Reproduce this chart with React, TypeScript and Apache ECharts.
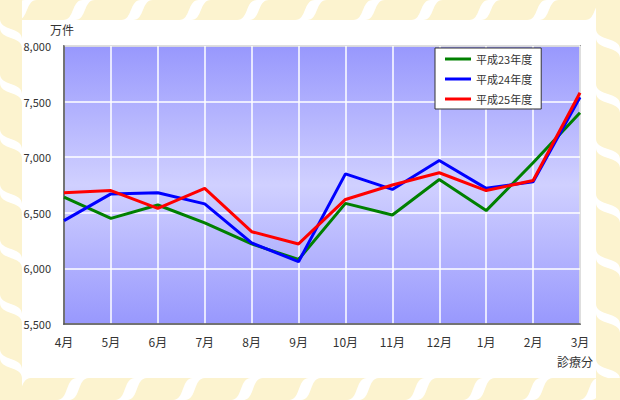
import React, { useEffect, useRef } from "react";
import * as echarts from "echarts";

const months = ["4月", "5月", "6月", "7月", "8月", "9月", "10月", "11月", "12月", "1月", "2月", "3月"];
const seriesNames = ["平成23年度", "平成24年度", "平成25年度"];
const h23 = [6640, 6450, 6570, 6410, 6220, 6080, 6585, 6480, 6800, 6520, 6950, 7400];
const h24 = [6430, 6670, 6680, 6580, 6230, 6060, 6850, 6710, 6970, 6720, 6780, 7540];
const h25 = [6680, 6700, 6540, 6720, 6330, 6220, 6620, 6750, 6860, 6700, 6790, 7580];
const seriesColors = ["#008000", "#0000ff", "#ff0000"];
const yMin = 5500;
const yMax = 8000;
const yStep = 500;

const FONT = "'Noto Sans CJK JP', 'Noto Sans', sans-serif";
const TILE = "#fcf3cf";

echarts.graphic.registerShape(
  "hTile",
  echarts.graphic.extendPath("M0 20 C12 20 8 0 20 0 L66 0 C54 0 58 20 46 20 Z", {})
);
echarts.graphic.registerShape(
  "vTile",
  echarts.graphic.extendPath("M0 0 C0 12 22 8 22 20 L22 66 C22 54 0 58 0 46 Z", {})
);

function frameTiles() {
  const els: any[] = [];
  for (let x = 17 - 58 * 2; x < 640; x += 58) {
    els.push({ type: "hTile", x, y: 0, style: { fill: TILE }, silent: true });
    els.push({ type: "hTile", x: x - 6, y: 378, scaleY: 1.1, style: { fill: TILE }, silent: true });
  }
  for (let y = 28 - 55; y < 420; y += 55) {
    els.push({ type: "vTile", x: 0, y, style: { fill: TILE }, silent: true });
    els.push({ type: "vTile", x: 596, y: y + 10, scaleX: 24 / 22, style: { fill: TILE }, silent: true });
  }
  return els;
}

export default function App() {
  const ref = useRef<HTMLDivElement>(null);
  useEffect(() => {
    document.body.style.margin = "0";
    const chart = echarts.init(ref.current!, null, { renderer: "svg" });
    const data = [h23, h24, h25];
    chart.setOption({
      animation: false,
      backgroundColor: "#ffffff",
      textStyle: { fontFamily: FONT },
      grid: {
        left: 64,
        top: 46,
        width: 516,
        height: 278,
        show: true,
        borderColor: "#505050",
        borderWidth: 1.5,
        backgroundColor: new echarts.graphic.LinearGradient(0, 0, 0, 1, [
          { offset: 0, color: "#9898fd" },
          { offset: 0.5, color: "#d0d0ff" },
          { offset: 1, color: "#9898fd" },
        ]),
      },
      legend: {
        orient: "vertical",
        left: 435,
        top: 48,
        backgroundColor: "#ffffff",
        borderColor: "#333333",
        borderWidth: 1,
        borderRadius: 0,
        padding: [4, 9, 3, 10],
        icon: "rect",
        itemWidth: 26,
        itemHeight: 3,
        itemGap: 6,
        textStyle: { fontSize: 11, color: "#333333", fontFamily: FONT, lineHeight: 14 },
        data: seriesNames,
      },
      xAxis: {
        type: "category",
        boundaryGap: false,
        data: months,
        axisLine: { show: true, lineStyle: { color: "#505050", width: 1.5 } },
        axisTick: { show: false },
        axisLabel: { color: "#333333", fontSize: 12, margin: 11, fontFamily: FONT },
        splitLine: { show: true, lineStyle: { color: "#ffffff", width: 1.5 } },
      },
      yAxis: {
        type: "value",
        min: yMin,
        max: yMax,
        interval: yStep,
        axisLine: { show: true, lineStyle: { color: "#505050", width: 1.5 } },
        axisTick: { show: false },
        axisLabel: {
          color: "#333333",
          fontSize: 11,
          margin: 13,
          fontFamily: FONT,
          formatter: (v: number) => v.toLocaleString("en-US"),
        },
        splitLine: { show: true, lineStyle: { color: "#ffffff", width: 1.5 } },
      },
      series: seriesNames.map((name, i) => ({
        name,
        type: "line",
        data: data[i],
        symbol: "none",
        color: seriesColors[i],
        lineStyle: { color: seriesColors[i], width: 3 },
        z: 3 + i,
      })),
      graphic: [
        ...frameTiles(),
        {
          type: "text",
          x: 50,
          y: 29,
          style: { text: "万件", fill: "#333333", font: `12px ${FONT}`, verticalAlign: "middle" },
        },
        {
          type: "text",
          x: 557,
          y: 361,
          style: { text: "診療分", fill: "#333333", font: `12px ${FONT}`, verticalAlign: "middle" },
        },
      ],
    });
    return () => chart.dispose();
  }, []);
  return <div ref={ref} style={{ width: 620, height: 400 }} />;
}
